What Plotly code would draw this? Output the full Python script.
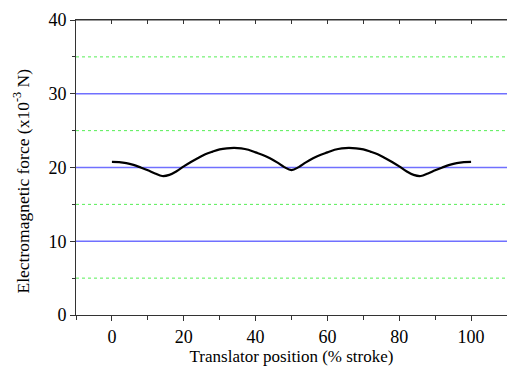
import plotly.graph_objects as go

position = [0, 2, 4, 6, 8, 10, 12, 14, 16, 18, 20, 22, 24, 26, 28, 30, 32, 34, 36, 38, 40, 42, 44, 46, 48, 50,
            52, 54, 56, 58, 60, 62, 64, 66, 68, 70, 72, 74, 76, 78, 80, 82, 84, 86, 88, 90, 92, 94, 96, 98, 100]
force = [20.76, 20.73, 20.6, 20.35, 20.0, 19.62, 19.2, 18.85, 19.0, 19.5, 20.15, 20.75, 21.3, 21.8, 22.15, 22.45,
         22.6, 22.66, 22.6, 22.4, 22.05, 21.7, 21.25, 20.7, 20.05, 19.65,
         20.05, 20.7, 21.25, 21.7, 22.05, 22.4, 22.6, 22.66, 22.6, 22.45, 22.15, 21.8, 21.3, 20.75, 20.15,
         19.5, 19.0, 18.85, 19.2, 19.62, 20.0, 20.35, 20.6, 20.73, 20.76]

major_y = [10, 20, 30]
minor_y = [5, 15, 25, 35]

fig = go.Figure()
fig.add_trace(go.Scatter(x=position, y=force, mode="lines", line=dict(color="black", width=2.2, shape="spline"),
                         showlegend=False))
fig.add_trace(go.Scatter(x=[0], y=[0], xaxis="x2", mode="markers", marker=dict(opacity=0), showlegend=False,
                         hoverinfo="skip"))

shapes = []
for v in major_y:
    shapes.append(dict(type="line", xref="paper", yref="y", x0=0, x1=1, y0=v, y1=v,
                       line=dict(color="#7070ff", width=1.5), layer="below"))
for v in minor_y:
    shapes.append(dict(type="line", xref="paper", yref="y", x0=0, x1=1, y0=v, y1=v,
                       line=dict(color="#55ee55", width=1, dash="dot"), layer="below"))
# top frame line
shapes.append(dict(type="line", xref="paper", yref="paper", x0=0, x1=1, y0=1, y1=1,
                   line=dict(color="#333", width=1), layer="above"))

font = "Liberation Serif, Times New Roman, serif"
fig.update_layout(
    width=507, height=367,
    margin=dict(l=76, r=0, t=20, b=52, autoexpand=False),
    paper_bgcolor="white", plot_bgcolor="white",
    font=dict(family=font, size=18, color="black"),
    shapes=shapes,
    annotations=[dict(text="Electromagnetic force (x10<sup>-3</sup> N)", textangle=-90,
                      xref="paper", yref="paper", x=-76 / 431, y=0.5, xanchor="left", yanchor="middle",
                      xshift=8, yshift=-14, showarrow=False, font=dict(size=17.5, family=font))],
    xaxis=dict(range=[-10, 110], tickvals=[0, 20, 40, 60, 80, 100], ticks="outside", ticklen=5,
               minor=dict(tickvals=[-10, 10, 30, 50, 70, 90, 110], ticks="outside", ticklen=4, tickcolor="#333"),
               showgrid=False, zeroline=False, showline=True, linecolor="#333", linewidth=1, mirror=True,
               tickcolor="#333", automargin=False,
               title=dict(text="Translator position (% stroke)", font=dict(size=17), standoff=0),
               tickfont=dict(size=18)),
    xaxis2=dict(range=[-10, 110], overlaying="x", side="top", tickvals=[0, 10, 20, 30, 40, 50, 60, 70, 80, 90, 100],
                ticks="inside", ticklen=4, showticklabels=False, showgrid=False, zeroline=False,
                showline=True, linecolor="#333", linewidth=1, tickcolor="#333", automargin=False),
    yaxis=dict(range=[0, 40], tickvals=[0, 10, 20, 30, 40], ticks="outside", ticklen=5,
               minor=dict(tickvals=minor_y, ticks="outside", ticklen=3, tickcolor="#333"),
               showgrid=False, zeroline=False, showline=True, linecolor="#333", linewidth=1,
               tickcolor="#333", automargin=False,
               tickfont=dict(size=18)),
)

fig.write_html("out.html", config={"displayModeBar": False},
               post_script="document.body.style.margin='0';document.body.style.overflow='hidden';")
